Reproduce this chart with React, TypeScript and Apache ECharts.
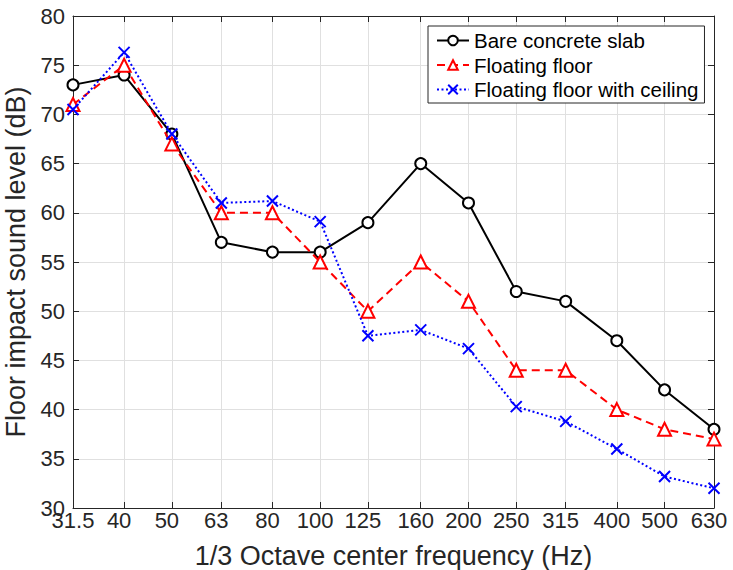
import React, { useEffect, useRef } from "react";
import * as echarts from "echarts";

const freqs = [31.5, 40, 50, 63, 80, 100, 125, 160, 200, 250, 315, 400, 500, 630];
const freqLabels = ["31.5", "40", "50", "63", "80", "100", "125", "160", "200", "250", "315", "400", "500", "630"];
const bareSlab = [73, 74, 68, 57, 56, 56, 59, 65, 61, 52, 51, 47, 42, 38];
const floatingFloor = [71, 75, 67, 60, 60, 55, 50, 55, 51, 44, 44, 40, 38, 37];
const floatingCeiling = [70.5, 76.3, 68, 61, 61.2, 59.1, 47.5, 48.1, 46.2, 40.3, 38.8, 36, 33.2, 32];
const yTicks = [30, 35, 40, 45, 50, 55, 60, 65, 70, 75, 80];

const FONT = "'Liberation Sans', Arial, Helvetica, sans-serif";
const TXT = "#262626";

export default function App() {
  const ref = useRef<HTMLDivElement>(null);
  useEffect(() => {
    if (!ref.current) return;
    const chart = echarts.init(ref.current, null, { renderer: "svg" });
    const logX = freqs.map((f) => Math.log10(f));
    const xmin = logX[0];
    const xmax = logX[logX.length - 1];
    const fmt = (v: number) => {
      const i = logX.findIndex((x) => Math.abs(x - v) < 1e-6);
      if (i < 0) return "";
      return i === 0 ? "{a|" + freqLabels[i] + "}" : "{b|" + freqLabels[i] + "}";
    };
    const toData = (arr: number[]) => arr.map((v, i) => [logX[i], v]);
    const xCommon = {
      type: "value",
      min: xmin,
      max: xmax,
      axisLine: { show: true, onZero: false, lineStyle: { color: TXT, width: 1 } },
    };
    const labelText = { fontFamily: FONT, fontSize: 22, color: TXT };
    chart.setOption({
      animation: false,
      textStyle: { fontFamily: FONT },
      grid: { left: 73, right: 19, top: 16, bottom: 62, containLabel: false, outerBoundsMode: "none" },
      legend: {
        orient: "vertical",
        left: 428,
        top: 26,
        backgroundColor: "#ffffff",
        borderColor: TXT,
        borderWidth: 1,
        padding: [4, 6, 3, 8],
        itemWidth: 32,
        itemHeight: 12,
        itemGap: 3.5,
        textStyle: { fontFamily: FONT, fontSize: 20.5, color: "#000", lineHeight: 20 },
        data: ["Bare concrete slab", "Floating floor", "Floating floor with ceiling"],
      },
      xAxis: [
        {
          ...xCommon,
          position: "bottom",
          name: "1/3 Octave center frequency (Hz)",
          nameLocation: "middle",
          nameGap: 34,
          nameTextStyle: { fontFamily: FONT, fontSize: 27, color: TXT },
          axisTick: { show: true, inside: true, length: 6, customValues: logX, lineStyle: { color: TXT } },
          axisLabel: {
            show: true,
            customValues: logX,
            formatter: fmt,
            margin: 1,
            ...labelText,
            rich: {
              a: { ...labelText },
              b: { ...labelText, padding: [0, 10, 0, 0] },
            },
          },
          splitLine: { show: true, lineStyle: { color: "#e0e0e0", width: 1 } },
        },
        {
          ...xCommon,
          position: "top",
          axisTick: { show: true, inside: true, length: 6, customValues: logX, lineStyle: { color: TXT } },
          axisLabel: { show: false },
          splitLine: { show: false },
        },
      ],
      yAxis: [
        {
          type: "value",
          min: 30,
          max: 80,
          interval: 5,
          position: "left",
          name: "Floor impact sound level (dB)",
          nameLocation: "middle",
          nameGap: 35,
          nameTextStyle: { fontFamily: FONT, fontSize: 27, color: TXT },
          axisLine: { show: true, lineStyle: { color: TXT } },
          axisTick: { show: true, inside: true, length: 6, lineStyle: { color: TXT } },
          axisLabel: { ...labelText, margin: 8, customValues: yTicks },
          splitLine: { show: true, lineStyle: { color: "#e0e0e0", width: 1 } },
        },
        {
          type: "value",
          min: 30,
          max: 80,
          interval: 5,
          position: "right",
          axisLine: { show: true, lineStyle: { color: TXT } },
          axisTick: { show: true, inside: true, length: 6, lineStyle: { color: TXT } },
          axisLabel: { show: false },
          splitLine: { show: false },
        },
      ],
      series: [
        {
          name: "Bare concrete slab",
          type: "line",
          data: toData(bareSlab),
          symbol: "emptyCircle",
          symbolSize: 11,
          lineStyle: { color: "#000", width: 2, type: "solid" },
          itemStyle: { color: "#000", borderColor: "#000", borderWidth: 2 },
          z: 2,
        },
        {
          name: "Floating floor",
          type: "line",
          data: toData(floatingFloor),
          symbol: "emptyTriangle",
          symbolSize: 13,
          lineStyle: { color: "#ff0000", width: 2, type: [8, 5] },
          itemStyle: { color: "#ff0000", borderColor: "#ff0000", borderWidth: 2 },
          z: 3,
        },
        {
          name: "Floating floor with ceiling",
          type: "line",
          data: toData(floatingCeiling),
          symbol: "path://M0,0L10,10M10,0L0,10",
          symbolSize: 11,
          lineStyle: { color: "#0000ff", width: 2, type: [2, 2.5] },
          itemStyle: { color: "none", borderColor: "#0000ff", borderWidth: 2 },
          z: 4,
        },
      ],
    });
    return () => chart.dispose();
  }, []);
  return (
    <div
      ref={ref}
      style={{ position: "fixed", left: 0, top: 0, width: 733, height: 570, background: "#fff" }}
    />
  );
}
